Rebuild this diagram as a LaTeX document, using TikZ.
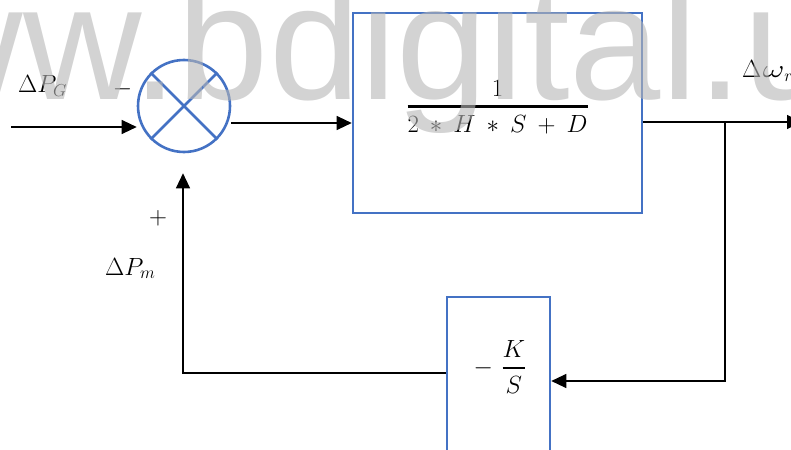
\documentclass[tikz,border=0pt]{standalone}
\usepackage{fontspec}
\usepackage{graphicx}
\newfontfamily\wmfont{Liberation Sans}
\usetikzlibrary{arrows.meta}
\definecolor{wblue}{RGB}{68,114,196}
\definecolor{wmgray}{RGB}{182,182,182}
\begin{document}
\begin{tikzpicture}[x=1pt,y=-1pt,
  blk/.style={draw=wblue, line width=2.6pt, inner sep=0},
  conn/.style={line width=1.2pt},
  arr/.style={conn,-{Triangle[length=15pt,width=14pt]}},
  lbl/.style={inner sep=0, font=\fontsize{26}{30}\selectfont}]
\clip (0,0) rectangle (791,449);
% blocks
\node[blk, circle, minimum size=92pt] (sum) at (184,106) {};
\draw[draw=wblue, line width=2.6pt] (sum.north west) -- (sum.south east)
  (sum.north east) -- (sum.south west);
\node[blk, rectangle, minimum width=289pt, minimum height=200pt] (G) at (497.5,113) {};
\node[inner sep=0] (Gtf) at (497.5,107)
  {\fontsize{23}{28}\selectfont\medmuskip=8mu $\displaystyle{1\above2.5pt 2\ast H\ast S+D}$};
\node[blk, rectangle, minimum width=103pt, minimum height=230pt] (K) at (498.5,412) {};
\node[inner sep=0] (Ktf) at (500,367)
  {\fontsize{28}{32}\selectfont $-\mkern6mu\displaystyle{K\above2.5pt S}$};
% coordinates
\coordinate (in) at (11,127);
\coordinate (c1) at (0,123);
\coordinate (br) at (725,122);
\coordinate (outend) at (802,122);
\coordinate (fb) at (725,381);
\coordinate (fl) at (183,373);
% connectors
\draw[arr] (in) -- (in -| sum.west);
\draw[arr] (sum.east |- c1) -- (G.west |- c1);
\draw[arr] (G.east |- br) -- (outend);
\draw[arr] (br) -- (fb) -- (fb -| K.east);
\draw[arr, shorten >=20pt] (K.west |- fl) -- (fl) -- (sum.south -| fl);
% labels
\node[lbl, anchor=base west] (pg) at (18,93) {$\Delta P_G$};
\node[lbl, anchor=base] (minus) at (122.5,95.5) {$-$};
\node[lbl, anchor=base] (plus) at (158,224.5) {$+$};
\node[lbl, anchor=base west] (pm) at (105,275) {$\Delta P_m$};
\node[lbl, anchor=base west] (wr) at (742,78) {$\Delta\mkern1mu\scalebox{1.35}[1]{$\omega$}_r$};
% watermark
\node[anchor=base west, inner sep=0, text=wmgray, opacity=0.6,
  font=\wmfont\fontsize{164}{164}\selectfont] (wm) at (-214,100) {www.bdigital.u};
\end{tikzpicture}
\end{document}
